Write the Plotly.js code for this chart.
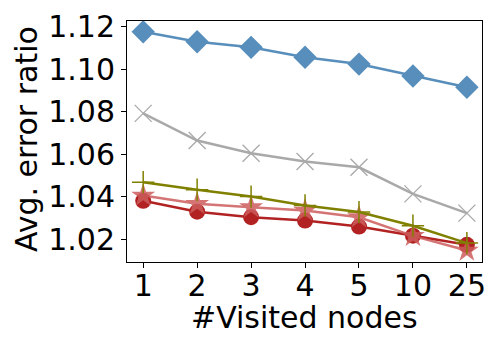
<!DOCTYPE html>
<html>
<head>
<meta charset="utf-8">
<script src="https://cdn.plot.ly/plotly-3.0.1.min.js"></script>
<style>
  html, body { margin: 0; padding: 0; background: #fff; }
  #graphique { width: 500px; height: 350px; }
</style>
</head>
<body>
<div id="graphique"></div>
<script>
// Catégories de l'axe x (nombre de noeuds visités)
let noeuds = ["1", "2", "3", "4", "5", "10", "25"];

// Valeurs, une liste par série
let serie_bleue = [1.1176, 1.1129, 1.1103, 1.1056, 1.1024, 1.0968, 1.0915];
let serie_grise = [1.0792, 1.0664, 1.0604, 1.0565, 1.0538, 1.0413, 1.0322];
let serie_rouge = [1.0380, 1.0329, 1.0303, 1.0287, 1.0259, 1.0216, 1.0173];
let serie_rose = [1.0405, 1.0366, 1.0350, 1.0334, 1.0303, 1.0215, 1.0146];
let serie_olive = [1.0468, 1.0432, 1.0400, 1.0358, 1.0327, 1.0263, 1.0181];

let y_ticks = [1.02, 1.04, 1.06, 1.08, 1.10, 1.12];

function trace(valeurs, couleur, symbole, taille, opacite, epaisseur) {
    return {
        x: noeuds,
        y: valeurs,
        type: "scatter",
        mode: "lines+markers",
        line: {color: couleur, width: 2.5},
        marker: {
            symbol: symbole,
            size: taille,
            color: couleur,
            line: {color: couleur, width: epaisseur}
        },
        opacity: opacite,
        showlegend: false
    };
}

let donnee = [
    trace(serie_bleue, "#4682b4", "diamond", 18, 0.9, 0),
    trace(serie_grise, "#a9a9a9", "x-thin-open", 17, 1, 1.3),
    trace(serie_rouge, "#b22222", "circle", 16, 1, 0),
    trace(serie_rose, "#cd5c5c", "star", 18, 0.85, 0),
    trace(serie_olive, "#808000", "cross-thin-open", 16, 1, 1.5)
];

let police = {family: "DejaVu Sans, sans-serif", size: 30, color: "#000"};

let apparence = {
    width: 500,
    height: 350,
    margin: {l: 127, r: 18, t: 21, b: 88},
    paper_bgcolor: "#fff",
    plot_bgcolor: "#fff",
    font: police,
    xaxis: {
        type: "category",
        range: [-0.3, 6.28],
        showgrid: false,
        zeroline: false,
        showline: true,
        mirror: true,
        linecolor: "#000",
        linewidth: 1,
        ticks: "outside",
        ticklen: 5,
        tickcolor: "#000",
        tickfont: police,
        ticklabelstandoff: -8
    },
    yaxis: {
        range: [1.0092, 1.1227],
        tickvals: y_ticks,
        ticktext: y_ticks.map(v => v.toFixed(2)),
        showgrid: false,
        zeroline: false,
        showline: true,
        mirror: true,
        linecolor: "#000",
        linewidth: 1,
        ticks: "outside",
        ticklen: 5,
        tickcolor: "#000",
        tickfont: police
    },
    // Titres des axes placés à la main pour coller à la figure
    annotations: [
        {
            text: "#Visited nodes", font: police, showarrow: false,
            xref: "paper", yref: "paper", x: 0.501, y: -0.23,
            xanchor: "center", yanchor: "middle"
        },
        {
            text: "Avg. error ratio", font: police, showarrow: false, textangle: -90,
            xref: "paper", yref: "paper", x: -0.283, y: 0.508,
            xanchor: "center", yanchor: "middle"
        }
    ]
};

Plotly.newPlot("graphique", donnee, apparence, {staticPlot: true});
</script>
</body>
</html>
